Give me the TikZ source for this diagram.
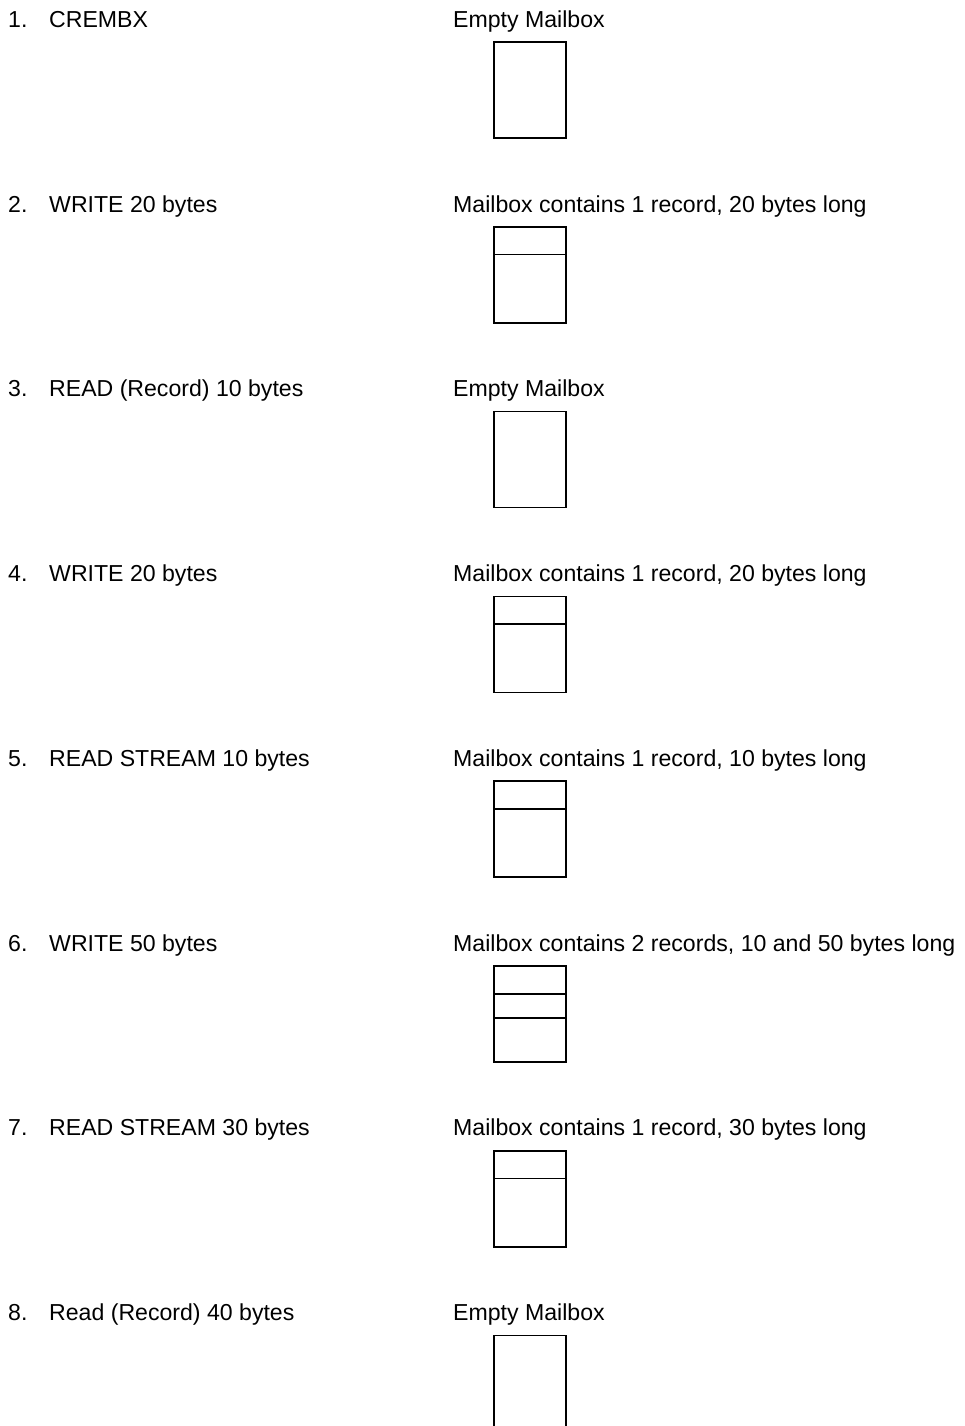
\documentclass[tikz,border=0pt]{standalone}
\usepackage{fontspec}
\setmainfont{Liberation Sans}
\usetikzlibrary{positioning}

\tikzset{
    steptext/.style={anchor=base west, inner sep=0pt, font=\fontsize{23.1}{27}\selectfont},
    mbox/.style={draw, line width=1.6pt, minimum width=72pt, minimum height=96pt, inner sep=0pt, anchor=north west},
    recline/.style={line width=1.7pt}
}

\begin{document}
\begin{tikzpicture}[x=1pt, y=1pt]
    % Step 1: canvas
    \useasboundingbox (0,0) rectangle (964,-1426);

    % Step 2: rows (number / operation / mailbox state / records)
    \foreach \i/\op/\state/\recs in {
        1/CREMBX/Empty Mailbox/0,
        2/WRITE 20 bytes/{Mailbox contains 1 record, 20 bytes long}/1,
        3/READ (Record) 10 bytes/Empty Mailbox/0,
        4/WRITE 20 bytes/{Mailbox contains 1 record, 20 bytes long}/1,
        5/READ STREAM 10 bytes/{Mailbox contains 1 record, 10 bytes long}/1,
        6/WRITE 50 bytes/{Mailbox contains 2 records, 10 and 50 bytes long}/2,
        7/READ STREAM 30 bytes/{Mailbox contains 1 record, 30 bytes long}/1,
        8/Read (Record) 40 bytes/Empty Mailbox/0} {
        \pgfmathsetmacro{\yb}{-27.3-184.77*(\i-1)}
        \node[steptext] (num\i) at (8,\yb) {\i.};
        \node[steptext] (op\i) at (49,\yb) {\op};
        \node[steptext] (state\i) at (453,\yb) {\state};
        \node[mbox] (box\i) at (493,\yb-14) {};
        % records in the mailbox
        \ifnum\recs>0
            \draw[recline] ([yshift=-28.5pt]box\i.north west) -- ([yshift=-28.5pt]box\i.north east);
        \fi
        \ifnum\recs>1
            \draw[recline] ([yshift=-53pt]box\i.north west) -- ([yshift=-53pt]box\i.north east);
        \fi
    }

\end{tikzpicture}
\end{document}
